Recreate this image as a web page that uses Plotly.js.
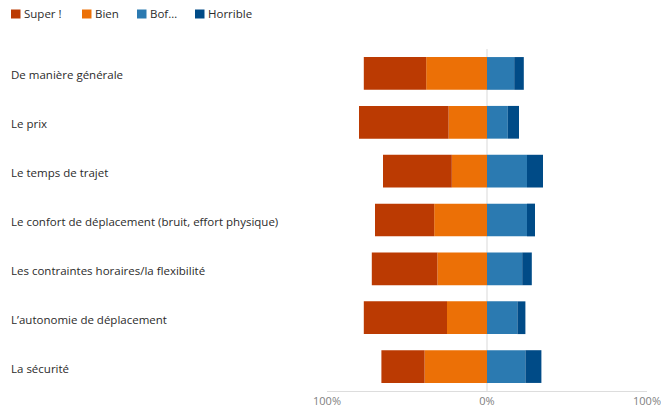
<!DOCTYPE html>
<html>
<head>
<meta charset="utf-8">
<script src="https://cdn.plot.ly/plotly-3.0.1.min.js"></script>
<style>html,body{margin:0;padding:0;background:#fff;}#chart{width:661px;height:409px;}</style>
</head>
<body>
<div id="chart"></div>
<script>
// Data
var categories = [
  "De manière générale",
  "Le prix",
  "Le temps de trajet",
  "Le confort de déplacement (bruit, effort physique)",
  "Les contraintes horaires/la flexibilité",
  "L\u2019autonomie de déplacement",
  "La sécurité"
];
var seriesNames = ["Super !", "Bien", "Bof…", "Horrible"];
var superVals    = [39, 56, 43, 37, 41, 52, 27];
var bienVals     = [38, 24, 22, 33, 31, 25, 39];
var bofVals      = [17, 13, 25, 25, 22, 19, 24];
var horribleVals = [6, 7, 10, 5, 6, 5, 10];
var tickVals   = [-100, 0, 100];
var tickLabels = ["100%", "0%", "100%"];

// Styles
var colors = ["#BB3A02", "#EC7006", "#2B7AB1", "#004B87"];
var FONT = "Open Sans, Noto Sans, sans-serif";
var W = 661, H = 409, ML = 327, MR = 14, MT = 49, MB = 18;
var legendX = [11, 82, 137, 195];   // px positions of legend squares
var legendY = 14;                    // px centre of legend row

function neg(a){ return a.map(function(v){ return -v; }); }

// Order: negatives nearest zero first (Bien), then Super; positives Bof then Horrible
var traces = [
  {name: seriesNames[1], x: neg(bienVals), y: categories, marker: {color: colors[1]}},
  {name: seriesNames[0], x: neg(superVals), y: categories, marker: {color: colors[0]}},
  {name: seriesNames[2], x: bofVals, y: categories, marker: {color: colors[2]}},
  {name: seriesNames[3], x: horribleVals, y: categories, marker: {color: colors[3]}}
].map(function(t){
  t.type = "bar"; t.orientation = "h"; t.hoverinfo = "none"; t.showlegend = false;
  t.marker.line = {width: 0};
  return t;
});

var plotW = W - ML - MR, plotH = H - MT - MB;
function px2paperX(px){ return (px - ML) / plotW; }
function px2paperY(py){ return 1 - (py - MT) / plotH; }

var annotations = categories.map(function(c){
  return {x: px2paperX(9), xref: "paper", xanchor: "left", y: c, yref: "y", yanchor: "middle",
          yshift: -1.5,
          text: c, showarrow: false, font: {family: FONT, size: 11.5, color: "#2b2b2b"}};
});
var shapes = [];
seriesNames.forEach(function(n, i){
  shapes.push({type: "rect", xref: "paper", yref: "paper",
    x0: px2paperX(legendX[i]), x1: px2paperX(legendX[i] + 9.5),
    y0: px2paperY(legendY - 4.5), y1: px2paperY(legendY + 4.5),
    fillcolor: colors[i], line: {width: 0}});
  annotations.push({x: px2paperX(legendX[i] + 11), xref: "paper", xanchor: "left",
    y: px2paperY(legendY), yref: "paper", yanchor: "middle", text: n, showarrow: false,
    font: {family: FONT, size: 11.5, color: "#2b2b2b"}});
});

var layout = {
  width: W, height: H,
  margin: {l: ML, r: MR, t: MT, b: MB, pad: 0},
  barmode: "relative",
  bargap: 0.33,
  paper_bgcolor: "#ffffff", plot_bgcolor: "#ffffff",
  font: {family: FONT, size: 11, color: "#808080"},
  showlegend: false,
  xaxis: {range: [-100, 100], tickvals: tickVals, ticktext: tickLabels, showgrid: true,
          gridcolor: "#e4e4e4", gridwidth: 1, zeroline: true, zerolinecolor: "#ececec", zerolinewidth: 2,
          showline: true, linecolor: "#dddddd", linewidth: 1, ticks: "", fixedrange: true,
          tickfont: {family: FONT, size: 11, color: "#808080"}},
  yaxis: {autorange: "reversed", showticklabels: false, showgrid: false, zeroline: false,
          showline: false, ticks: "", fixedrange: true},
  annotations: annotations,
  shapes: shapes
};

Plotly.newPlot("chart", traces, layout, {displayModeBar: false, staticPlot: true});
</script>
</body>
</html>
